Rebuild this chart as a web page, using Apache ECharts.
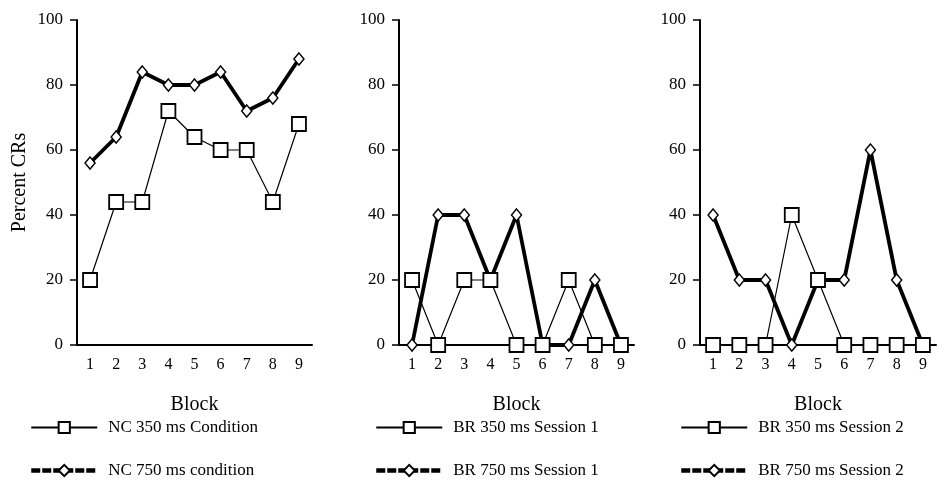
<!DOCTYPE html>
<html>
<head>
<meta charset="utf-8">
<script src="https://cdn.jsdelivr.net/npm/echarts@6/dist/echarts.min.js"></script>
<style>
  html, body { margin: 0; padding: 0; background: #fff; }
  #chart { width: 938px; height: 485px; }
</style>
</head>
<body>
<div id="chart"></div>
<script>
// 数据
var blocks = ['1', '2', '3', '4', '5', '6', '7', '8', '9'];
var yTicks = [0, 20, 40, 60, 80, 100];
var nc350 = [20, 44, 44, 72, 64, 60, 60, 44, 68];
var nc750 = [56, 64, 84, 80, 80, 84, 72, 76, 88];
var br350s1 = [20, 0, 20, 20, 0, 0, 20, 0, 0];
var br750s1 = [0, 40, 40, 20, 40, 0, 0, 20, 0];
var br350s2 = [0, 0, 0, 40, 20, 0, 0, 0, 0];
var br750s2 = [40, 20, 20, 0, 20, 20, 60, 20, 0];

var serif = '"Liberation Serif", "DejaVu Serif", serif';
var chart = echarts.init(document.getElementById('chart'));

function xAx(i) {
  return {
    type: 'category', gridIndex: i, data: blocks,
    name: 'Block', nameLocation: 'middle', nameGap: 50,
    nameTextStyle: { fontFamily: serif, fontSize: 20, color: '#000' },
    axisLine: { lineStyle: { color: '#000', width: 2 } },
    axisTick: { alignWithLabel: true, length: 6, lineStyle: { color: '#000', width: 1.5 } },
    axisLabel: { fontFamily: serif, fontSize: 16, color: '#000', margin: 12 },
    splitLine: { show: false }
  };
}
function yAx(i) {
  var ax = {
    type: 'value', gridIndex: i, min: yTicks[0], max: yTicks[yTicks.length - 1], interval: 20,
    axisLine: { show: true, lineStyle: { color: '#000', width: 2 } },
    axisTick: { show: true, length: 7, lineStyle: { color: '#000', width: 1.5 } },
    axisLabel: { fontFamily: serif, fontSize: 17, color: '#000', margin: 14 },
    splitLine: { show: false }
  };
  if (i === 0) {
    ax.name = 'Percent CRs';
    ax.nameLocation = 'middle';
    ax.nameGap = 47;
    ax.nameTextStyle = { fontFamily: serif, fontSize: 20, color: '#000' };
  }
  return ax;
}
function thin(name, data, i) {
  return {
    name: name, type: 'line', xAxisIndex: i, yAxisIndex: i, data: data, z: 4,
    symbol: 'rect', symbolSize: 14,
    lineStyle: { color: '#000', width: 1.2 },
    itemStyle: { color: '#fff', borderColor: '#000', borderWidth: 1.8 }
  };
}
function thick(name, data, i) {
  return {
    name: name, type: 'line', xAxisIndex: i, yAxisIndex: i, data: data, z: 3,
    symbol: 'diamond', symbolSize: [10, 12],
    lineStyle: { color: '#000', width: 3.8 },
    itemStyle: { color: '#fff', borderColor: '#000', borderWidth: 1.5 }
  };
}
function leg(left, names) {
  return {
    left: left, top: 419, orient: 'vertical', itemGap: 26, padding: 0,
    itemWidth: 66, itemHeight: 14,
    data: [
      { name: names[0], lineStyle: { width: 2 } },
      { name: names[1], lineStyle: { width: 4.5, type: [9, 2] } }
    ],
    textStyle: { fontFamily: serif, fontSize: 17, color: '#000', padding: [0, 0, 0, 6] },
    selectedMode: false
  };
}

chart.setOption({
  backgroundColor: '#fff',
  animation: false,
  grid: [
    { left: 77, top: 20, width: 235, height: 325 },
    { left: 399, top: 20, width: 235, height: 325 },
    { left: 700, top: 20, width: 236, height: 325 }
  ],
  xAxis: [xAx(0), xAx(1), xAx(2)],
  yAxis: [yAx(0), yAx(1), yAx(2)],
  legend: [
    leg(29, ['NC 350 ms Condition', 'NC 750 ms condition']),
    leg(374, ['BR 350 ms Session 1', 'BR 750 ms Session 1']),
    leg(679, ['BR 350 ms Session 2', 'BR 750 ms Session 2'])
  ],
  series: [
    thin('NC 350 ms Condition', nc350, 0),
    thick('NC 750 ms condition', nc750, 0),
    thin('BR 350 ms Session 1', br350s1, 1),
    thick('BR 750 ms Session 1', br750s1, 1),
    thin('BR 350 ms Session 2', br350s2, 2),
    thick('BR 750 ms Session 2', br750s2, 2)
  ]
});
</script>
</body>
</html>
